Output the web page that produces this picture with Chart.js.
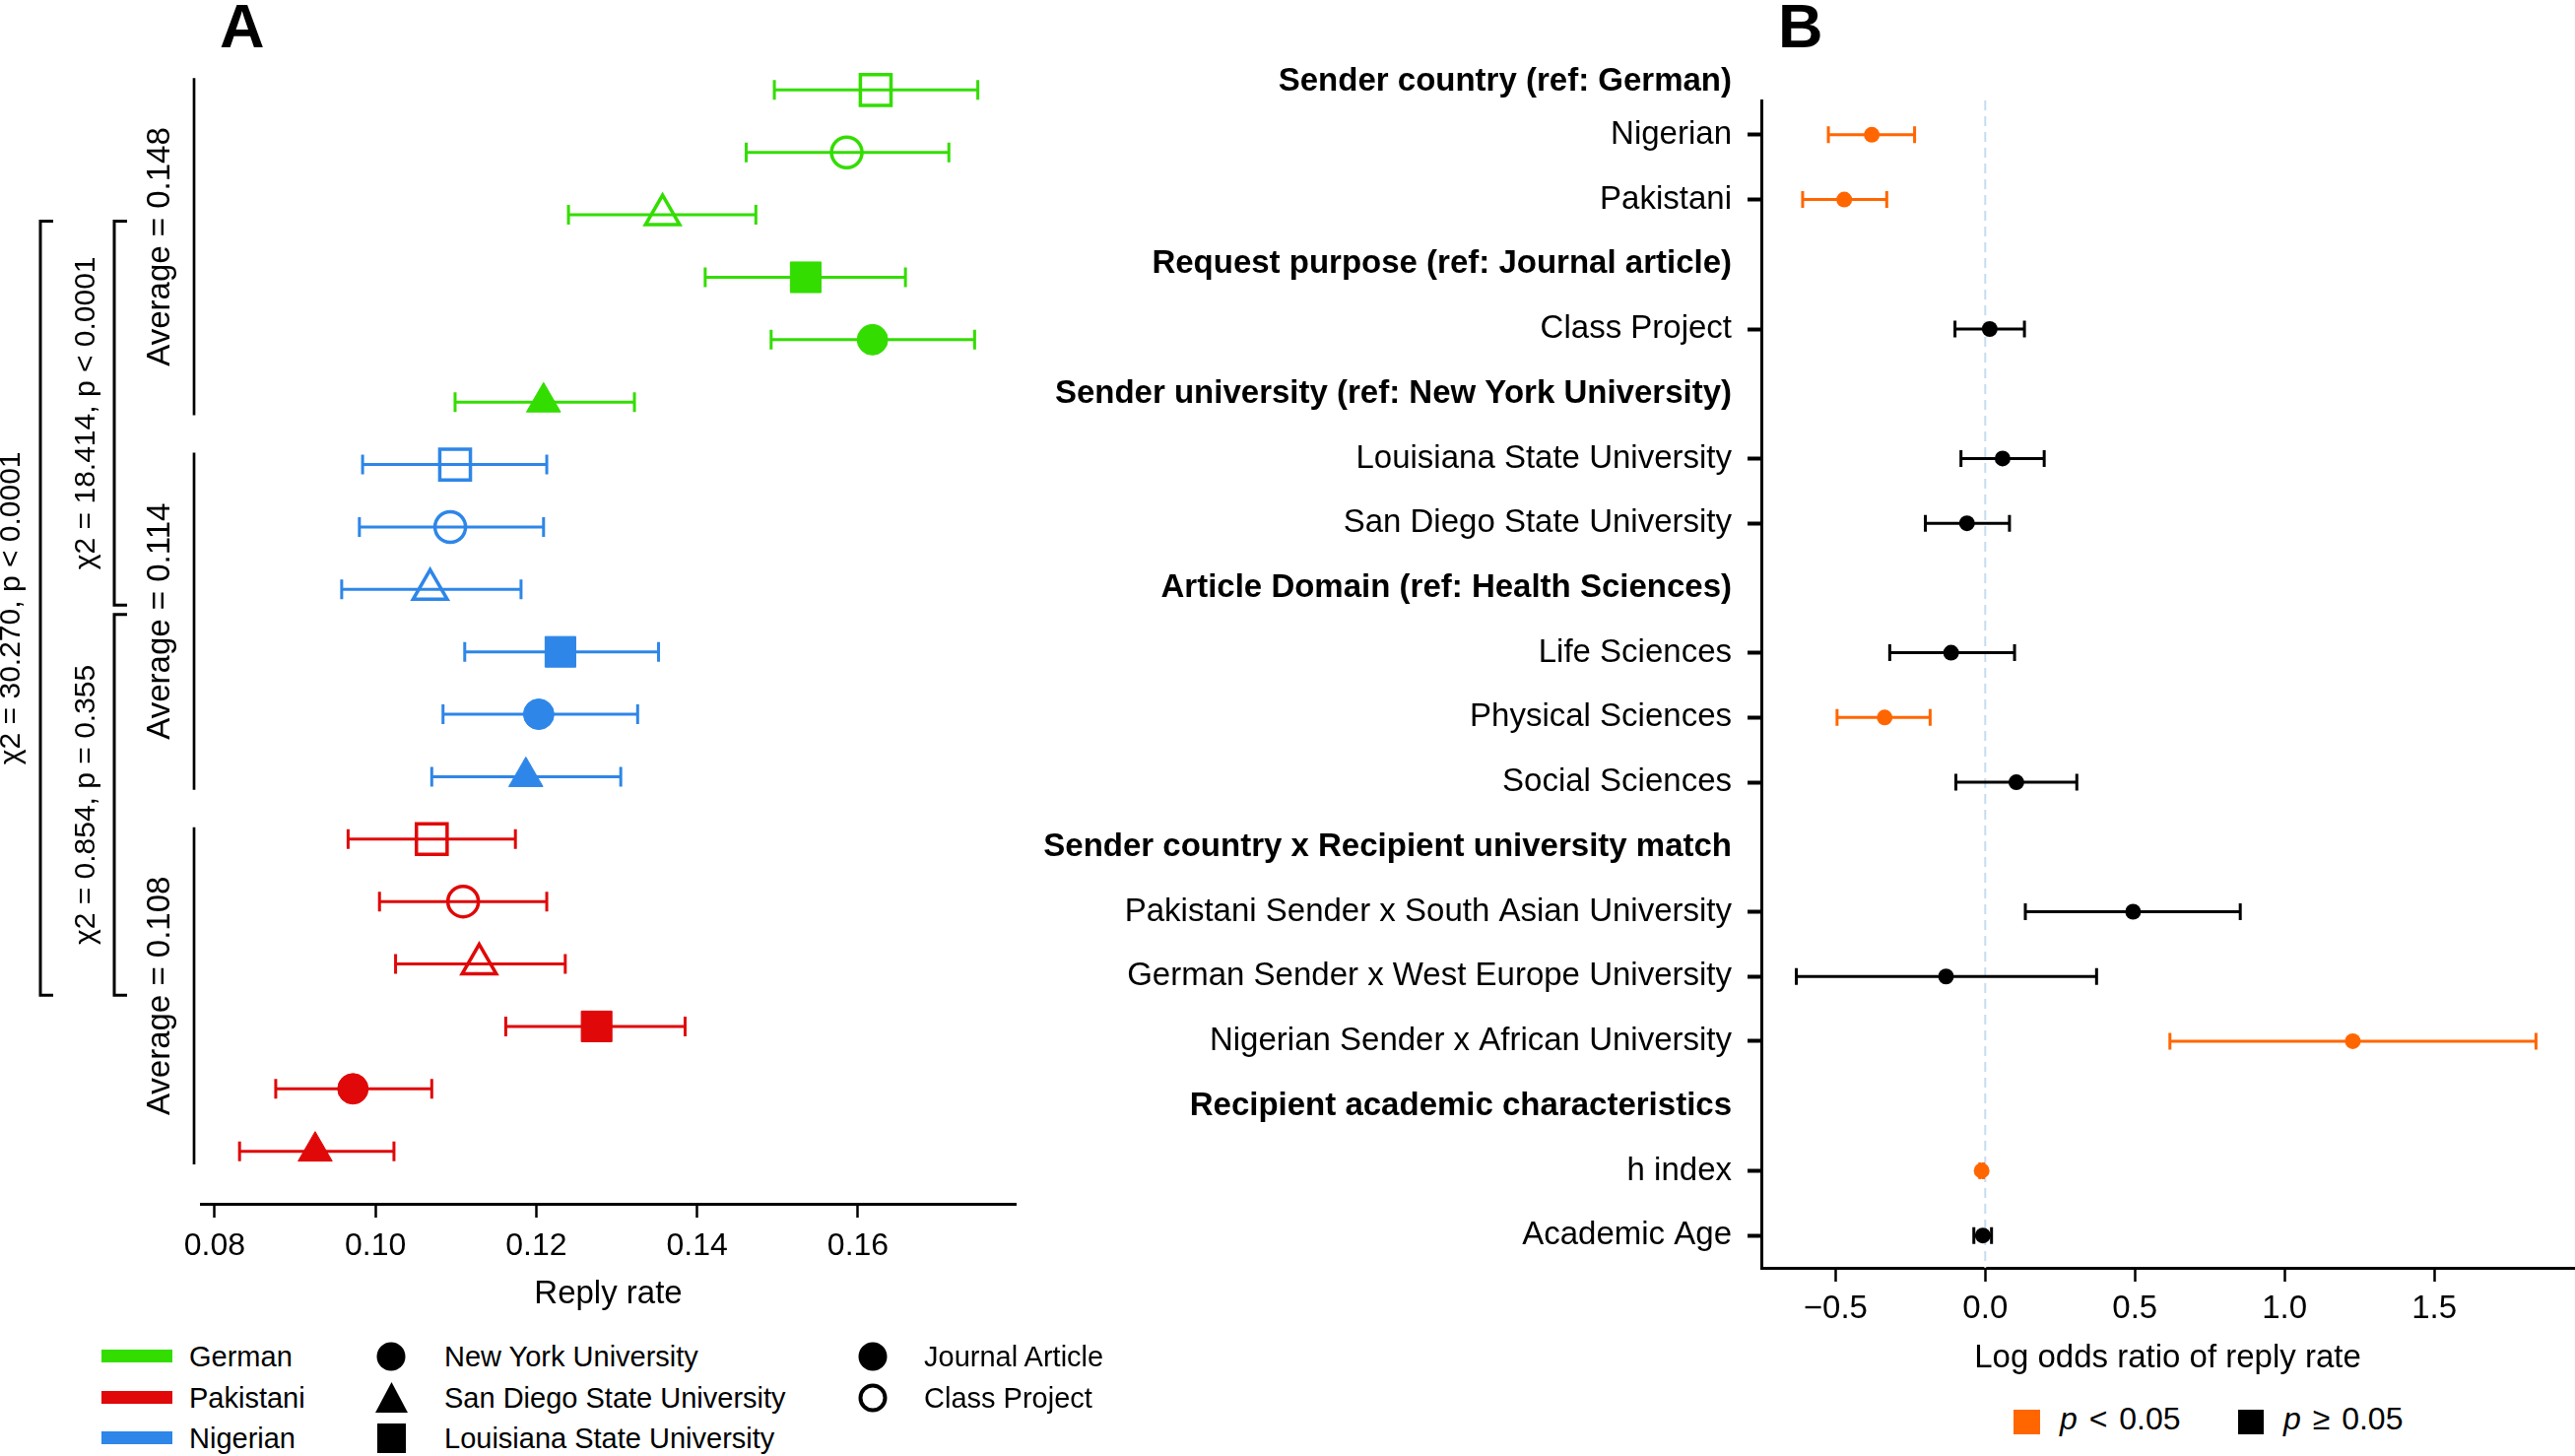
<!DOCTYPE html>
<html>
<head>
<meta charset="utf-8">
<script src="https://cdn.jsdelivr.net/npm/chart.js@4.4.1/dist/chart.umd.min.js"></script>
<style>
  html, body { margin: 0; padding: 0; background: #fff; }
  body { width: 2614px; height: 1478px; position: relative; overflow: hidden;
         font-family: "Liberation Sans", Arial, Helvetica, sans-serif; color: #000; }
  .abs { position: absolute; }
  .panel { font-weight: bold; font-size: 63px; line-height: 63px; }
  .lgA { font-size: 29px; line-height: 29px; white-space: nowrap; }
  .lgB { font-size: 32px; line-height: 32px; white-space: nowrap; word-spacing: 3px; }
  .bar { height: 13px; width: 72px; }
</style>
</head>
<body>
<div class="abs panel" style="left:223px; top:-5px;">A</div>
<div class="abs panel" style="left:1805px; top:-5px;">B</div>

<canvas id="chartA" class="abs" style="left:0; top:0;" width="1060" height="1345"></canvas>
<canvas id="chartB" class="abs" style="left:1040px; top:0;" width="1581" height="1410"></canvas>

<!-- legend for panel A -->
<div class="abs bar" style="left:103px; top:1370px; background:#33dd00;"></div>
<div class="abs bar" style="left:103px; top:1412px; background:#e00808;"></div>
<div class="abs bar" style="left:103px; top:1453px; background:#2e86e8;"></div>
<div class="abs lgA" style="left:192px; top:1363px;">German</div>
<div class="abs lgA" style="left:192px; top:1405px;">Pakistani</div>
<div class="abs lgA" style="left:192px; top:1446px;">Nigerian</div>

<svg class="abs" style="left:382px; top:1362px;" width="30" height="30"><circle cx="15" cy="15" r="14.5" fill="#000"/></svg>
<svg class="abs" style="left:381px; top:1403px;" width="33" height="31"><polygon points="16.5,0 33,31 0,31" fill="#000"/></svg>
<svg class="abs" style="left:383px; top:1445px;" width="29" height="30"><rect x="0" y="0" width="29" height="30" fill="#000"/></svg>
<div class="abs lgA" style="left:451px; top:1363px;">New York University</div>
<div class="abs lgA" style="left:451px; top:1405px;">San Diego State University</div>
<div class="abs lgA" style="left:451px; top:1446px;">Louisiana State University</div>

<svg class="abs" style="left:871px; top:1362px;" width="30" height="30"><circle cx="15" cy="15" r="14.5" fill="#000"/></svg>
<svg class="abs" style="left:871px; top:1404px;" width="30" height="30"><circle cx="15" cy="15" r="12.5" fill="none" stroke="#000" stroke-width="4"/></svg>
<div class="abs lgA" style="left:938px; top:1363px;">Journal Article</div>
<div class="abs lgA" style="left:938px; top:1405px;">Class Project</div>

<!-- legend for panel B -->
<div class="abs" style="left:2044px; top:1431px; width:27px; height:25px; background:#ff6600;"></div>
<div class="abs lgB" style="left:2091px; top:1424px;"><i>p</i> &lt; 0.05</div>
<div class="abs" style="left:2272px; top:1431px; width:26px; height:25px; background:#000;"></div>
<div class="abs lgB" style="left:2318px; top:1424px;"><i>p</i> &ge; 0.05</div>

<script>
// ---- Panel A: reply rate by sender country, university and purpose ----
// rows in each country block, top to bottom
const purposes = ['Class Project', 'Class Project', 'Class Project', 'Journal Article', 'Journal Article', 'Journal Article'];
const universities = ['Louisiana State University', 'New York University', 'San Diego State University',
                      'Louisiana State University', 'New York University', 'San Diego State University'];
const countryNames = ['German', 'Nigerian', 'Pakistani'];

const germanRate  = [0.1622, 0.1586, 0.1357, 0.1535, 0.1618, 0.1209];
const germanLow   = [0.1496, 0.1461, 0.1240, 0.1410, 0.1492, 0.1099];
const germanHigh  = [0.1749, 0.1713, 0.1473, 0.1659, 0.1745, 0.1322];

const nigerianRate = [0.1099, 0.1093, 0.1068, 0.1230, 0.1203, 0.1187];
const nigerianLow  = [0.0984, 0.0980, 0.0958, 0.1111, 0.1084, 0.1070];
const nigerianHigh = [0.1213, 0.1209, 0.1181, 0.1352, 0.1326, 0.1305];

const pakistaniRate = [0.1070, 0.1109, 0.1129, 0.1275, 0.0972, 0.0925];
const pakistaniLow  = [0.0966, 0.1005, 0.1025, 0.1162, 0.0876, 0.0831];
const pakistaniHigh = [0.1174, 0.1213, 0.1236, 0.1385, 0.1070, 0.1023];

const groupAverages = ['0.148', '0.114', '0.108'];
const chiTests = ['χ2 = 18.414, p < 0.0001', 'χ2 = 0.854, p = 0.355', 'χ2 = 30.270, p < 0.0001'];
const rateTicks = [0.08, 0.10, 0.12, 0.14, 0.16];

// ---- Panel B: logistic regression terms ----
const termLabels = [
  'Sender country (ref: German)', 'Nigerian', 'Pakistani',
  'Request purpose (ref: Journal article)', 'Class Project',
  'Sender university (ref: New York University)', 'Louisiana State University', 'San Diego State University',
  'Article Domain (ref: Health Sciences)', 'Life Sciences', 'Physical Sciences', 'Social Sciences',
  'Sender country x Recipient university match', 'Pakistani Sender x South Asian University',
  'German Sender x West Europe University', 'Nigerian Sender x African University',
  'Recipient academic characteristics', 'h index', 'Academic Age'
];
const logOdds = [null, -0.379, -0.471, null, 0.015, null, 0.058, -0.061, null, -0.114, -0.336, 0.104,
                 null, 0.494, -0.131, 1.228, null, -0.012, -0.008];
const ciLow   = [null, -0.524, -0.610, null, -0.101, null, -0.081, -0.200, null, -0.319, -0.495, -0.098,
                 null, 0.134, -0.631, 0.617, null, -0.018, -0.038];
const ciHigh  = [null, -0.236, -0.329, null, 0.131, null, 0.197, 0.081, null, 0.098, -0.184, 0.306,
                 null, 0.852, 0.372, 1.840, null, -0.006, 0.021];
const significant = [null, true, true, null, false, null, false, false, null, false, true, false,
                     null, false, false, true, null, true, false];
const oddsTicks = [-0.5, 0.0, 0.5, 1.0, 1.5];

// styles
const countryColor = { German: '#33dd00', Nigerian: '#2e86e8', Pakistani: '#e00808' };
const uniShape = { 'Louisiana State University': 'rect', 'New York University': 'circle', 'San Diego State University': 'triangle' };
const uniRadius = { 'Louisiana State University': 22, 'New York University': 15.5, 'San Diego State University': 20 };
const FONT = '"Liberation Sans", Arial, Helvetica, sans-serif';
Chart.defaults.font.family = FONT;
Chart.defaults.color = '#000';

const rateSeries = [
  [germanRate, germanLow, germanHigh],
  [nigerianRate, nigerianLow, nigerianHigh],
  [pakistaniRate, pakistaniLow, pakistaniHigh]
];

const datasetsA = countryNames.map((name, ci) => {
  const [rate, low, high] = rateSeries[ci];
  const color = countryColor[name];
  return {
    label: name,
    data: rate.map((v, i) => ({ x: v, y: ci * 6 + i, low: low[i], high: high[i] })),
    pointStyle: universities.map(u => uniShape[u]),
    pointRadius: universities.map(u => uniRadius[u]),
    pointBackgroundColor: purposes.map(p => p === 'Journal Article' ? color : 'rgba(0,0,0,0)'),
    pointBorderColor: color,
    pointBorderWidth: purposes.map(p => p === 'Journal Article' ? 1 : 3.5),
    errColor: color
  };
});

// draws horizontal error bars with end caps under the points
function errorBarPlugin(cap, width) {
  return {
    id: 'errorBars',
    beforeDatasetsDraw(chart) {
      const { ctx, scales: { x, y } } = chart;
      ctx.save();
      ctx.lineWidth = width;
      chart.data.datasets.forEach(ds => {
        ds.data.forEach((d, i) => {
          ctx.strokeStyle = Array.isArray(ds.errColor) ? ds.errColor[i] : ds.errColor;
          const py = y.getPixelForValue(d.y);
          const x0 = x.getPixelForValue(d.low), x1 = x.getPixelForValue(d.high);
          ctx.beginPath();
          ctx.moveTo(x0, py); ctx.lineTo(x1, py);
          ctx.moveTo(x0, py - cap); ctx.lineTo(x0, py + cap);
          ctx.moveTo(x1, py - cap); ctx.lineTo(x1, py + cap);
          ctx.stroke();
        });
      });
      ctx.restore();
    }
  };
}

function vText(ctx, text, x, y, size) {
  ctx.save();
  ctx.translate(x, y);
  ctx.rotate(-Math.PI / 2);
  ctx.font = size + 'px ' + FONT;
  ctx.fillStyle = '#000';
  ctx.textAlign = 'center';
  ctx.textBaseline = 'middle';
  ctx.fillText(text, 0, 0);
  ctx.restore();
}

// group averages and chi-square brackets on the left of panel A
const bracketPlugin = {
  id: 'brackets',
  afterDraw(chart) {
    const { ctx, scales: { y } } = chart;
    ctx.save();
    ctx.strokeStyle = '#000';
    ctx.lineWidth = 2.7;
    groupAverages.forEach((avg, g) => {
      const y0 = y.getPixelForValue(g * 6 - 0.19), y1 = y.getPixelForValue(g * 6 + 5.21);
      ctx.beginPath(); ctx.moveTo(197, y0); ctx.lineTo(197, y1); ctx.stroke();
      vText(ctx, 'Average = ' + avg, 163, (y0 + y1) / 2, 33);
    });
    const brackets = [[116, 2.1, 8.25, 88], [116, 8.4, 14.5, 88], [41, 2.1, 14.5, 12]];
    brackets.forEach(([bx, r0, r1, tx], k) => {
      const y0 = y.getPixelForValue(r0), y1 = y.getPixelForValue(r1);
      ctx.lineWidth = 3;
      ctx.beginPath();
      ctx.moveTo(bx + 13, y0); ctx.lineTo(bx, y0); ctx.lineTo(bx, y1); ctx.lineTo(bx + 13, y1);
      ctx.stroke();
      vText(ctx, chiTests[k], tx, (y0 + y1) / 2, 30);
    });
    ctx.restore();
  }
};

new Chart(document.getElementById('chartA'), {
  type: 'scatter',
  data: { datasets: datasetsA },
  options: {
    responsive: false,
    animation: false,
    events: [],
    layout: { padding: { left: 204, right: 29, top: 28, bottom: 0 } },
    plugins: { legend: { display: false }, tooltip: { enabled: false } },
    scales: {
      x: {
        type: 'linear', min: 0.0783, max: 0.1796,
        afterBuildTicks: s => { s.ticks = rateTicks.map(v => ({ value: v })); },
        afterFit: s => { s.height = 1345 - 1222; },
        ticks: { callback: v => v.toFixed(2), font: { size: 32 }, color: '#000', padding: 10, maxRotation: 0, autoSkip: false },
        grid: { drawOnChartArea: false, tickLength: 14, tickWidth: 2.5, tickColor: '#000' },
        border: { color: '#000', width: 3 },
        title: { display: true, text: 'Reply rate', font: { size: 33 }, color: '#000', padding: { top: 0, bottom: 11 } }
      },
      y: { type: 'linear', display: false, reverse: true, min: -1, max: 17.842 }
    }
  },
  plugins: [errorBarPlugin(10, 3), bracketPlugin]
});

// ---- Panel B chart ----
const pointsB = [];
logOdds.forEach((v, i) => {
  if (v !== null) pointsB.push({ x: v, y: i, low: ciLow[i], high: ciHigh[i], sig: significant[i] });
});
const sigColor = s => s ? '#ff6600' : '#000';

const zeroLinePlugin = {
  id: 'zeroLine',
  beforeDatasetsDraw(chart) {
    const { ctx, chartArea, scales: { x } } = chart;
    const px = x.getPixelForValue(0);
    ctx.save();
    ctx.strokeStyle = '#c6dcef';
    ctx.lineWidth = 2;
    ctx.setLineDash([10, 6]);
    ctx.beginPath(); ctx.moveTo(px, chartArea.top); ctx.lineTo(px, chartArea.bottom); ctx.stroke();
    ctx.restore();
  }
};

new Chart(document.getElementById('chartB'), {
  type: 'scatter',
  data: {
    datasets: [{
      label: 'Log odds ratio',
      data: pointsB,
      pointStyle: 'circle',
      pointRadius: 8,
      pointBackgroundColor: pointsB.map(p => sigColor(p.sig)),
      pointBorderWidth: 0,
      errColor: pointsB.map(p => sigColor(p.sig))
    }]
  },
  options: {
    responsive: false,
    animation: false,
    events: [],
    layout: { padding: { left: 0, right: 2, top: 102, bottom: 0 } },
    plugins: { legend: { display: false }, tooltip: { enabled: false } },
    scales: {
      x: {
        type: 'linear', min: -0.748, max: 1.967,
        afterBuildTicks: s => { s.ticks = oddsTicks.map(v => ({ value: v })); },
        afterFit: s => { s.height = 1410 - 1287; },
        ticks: { callback: v => (v < 0 ? '\u2212' + Math.abs(v).toFixed(1) : v.toFixed(1)),
                 font: { size: 33 }, color: '#000', padding: 8, maxRotation: 0, autoSkip: false },
        grid: { drawOnChartArea: false, tickLength: 14, tickWidth: 2.5, tickColor: '#000' },
        border: { color: '#000', width: 3 },
        title: { display: true, text: 'Log odds ratio of reply rate', font: { size: 33 }, color: '#000', padding: { top: 0, bottom: 11 } }
      },
      y: {
        type: 'linear', reverse: true, min: 0.47, max: 18.5,
        afterBuildTicks: s => { s.ticks = termLabels.map((t, i) => ({ value: i })); },
        afterFit: s => { s.width = 748; },
        ticks: {
          // the first heading sits a little lower, just above the axis
          callback: v => (v === 0 ? ['', termLabels[v]] : termLabels[v]),
          font: c => ({ size: 33, weight: logOdds[c.index] === null ? 'bold' : 'normal',
                        lineHeight: c.index === 0 ? 0.73 : 1.2 }),
          color: '#000', padding: 16, autoSkip: false
        },
        grid: {
          drawOnChartArea: false, tickLength: 14, tickWidth: 4,
          tickColor: c => logOdds[c.index] === null ? 'rgba(0,0,0,0)' : '#000'
        },
        border: { color: '#000', width: 3 }
      }
    }
  },
  plugins: [zeroLinePlugin, errorBarPlugin(8.5, 3)]
});
</script>
</body>
</html>
